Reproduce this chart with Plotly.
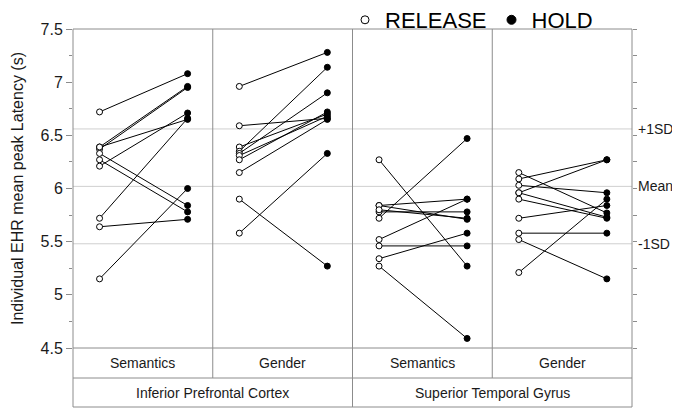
import plotly.graph_objects as go

# condition / region labels for the table under the plot
conditions = ['Semantics', 'Gender', 'Semantics', 'Gender']
regions = ['Inferior Prefrontal Cortex', 'Superior Temporal Gyrus']

# individual latencies (s), RELEASE -> HOLD, one pair per subject
ipc_sem_release = [6.72, 6.39, 6.37, 6.39, 6.33, 6.27, 6.21, 5.72, 5.64, 5.15]
ipc_sem_hold = [7.08, 6.96, 6.95, 6.65, 5.84, 5.78, 6.71, 6.66, 5.71, 6.00]
ipc_gen_release = [6.96, 6.59, 6.39, 6.35, 6.33, 6.31, 6.27, 6.15, 5.90, 5.58]
ipc_gen_hold = [7.28, 6.66, 6.70, 7.14, 6.90, 6.68, 6.72, 6.65, 5.27, 6.33]
stg_sem_release = [6.27, 5.72, 5.84, 5.84, 5.78, 5.80, 5.52, 5.46, 5.34, 5.27]
stg_sem_hold = [5.27, 6.47, 5.90, 5.71, 5.78, 5.72, 5.90, 5.46, 5.58, 4.59]
stg_gen_release = [6.15, 6.09, 6.03, 5.96, 5.96, 5.90, 5.72, 5.58, 5.52, 5.21]
stg_gen_hold = [5.77, 6.27, 5.96, 6.27, 5.73, 5.72, 5.84, 5.58, 5.15, 5.90]

releases = [ipc_sem_release, ipc_gen_release, stg_sem_release, stg_gen_release]
holds = [ipc_sem_hold, ipc_gen_hold, stg_sem_hold, stg_gen_hold]

# reference levels shown on the right
sd_labels = ['+1SD', 'Mean', '-1SD']
sd_levels = [6.56, 6.02, 5.48]

y_ticks = [4.5, 5, 5.5, 6, 6.5, 7, 7.5]

axis_gray = '#8c8c8c'
text_col = '#1a1a1a'
font_family = 'Liberation Sans, Arial, sans-serif'
x_open, x_fill = 0.19, 0.82

# the page body adds an 8px margin around the figure, so keep it inside the window
W, H = 664, 401
plot_h = 319
row1 = -30 / plot_h
row2 = -59 / plot_h

fig = go.Figure()

line_x, line_y, rel_x, rel_y, hold_x, hold_y = [], [], [], [], [], []
for p, (rel, hld) in enumerate(zip(releases, holds)):
    for r, h in zip(rel, hld):
        line_x += [p + x_open, p + x_fill, None]
        line_y += [r, h, None]
        rel_x.append(p + x_open)
        rel_y.append(r)
        hold_x.append(p + x_fill)
        hold_y.append(h)

fig.add_trace(go.Scatter(x=line_x, y=line_y, mode='lines', showlegend=False,
                         line=dict(color='black', width=1), hoverinfo='skip'))
fig.add_trace(go.Scatter(x=rel_x, y=rel_y, mode='markers', name='RELEASE', showlegend=False,
                         marker=dict(symbol='circle', size=6, color='white',
                                     line=dict(color='black', width=1))))
fig.add_trace(go.Scatter(x=hold_x, y=hold_y, mode='markers', name='HOLD', showlegend=False,
                         marker=dict(symbol='circle', size=6, color='black',
                                     line=dict(color='black', width=1))))
# legend entries (larger symbols than the data markers)
fig.add_trace(go.Scatter(x=[None], y=[None], mode='markers', name='RELEASE',
                         marker=dict(symbol='circle', size=8, color='white',
                                     line=dict(color='black', width=1))))
fig.add_trace(go.Scatter(x=[None], y=[None], mode='markers', name='HOLD',
                         marker=dict(symbol='circle', size=9, color='black',
                                     line=dict(color='black', width=1))))
# dummy trace so the right-hand tick axis is drawn
fig.add_trace(go.Scatter(x=[0], y=[6], yaxis='y2', mode='markers', showlegend=False,
                         marker=dict(opacity=0), hoverinfo='skip'))

shapes = []
for lvl in sd_levels:
    shapes.append(dict(type='line', xref='paper', yref='y', x0=0, x1=1, y0=lvl, y1=lvl,
                       line=dict(color='#cfcfcf', width=1), layer='below'))

n = len(conditions)
for p in range(1, n):
    bottom = row2 if p == n // 2 else row1
    shapes.append(dict(type='line', xref='paper', yref='paper', x0=p / n, x1=p / n,
                       y0=1, y1=bottom, line=dict(color=axis_gray, width=1)))
for yy in [1, 0, row1, row2]:
    shapes.append(dict(type='line', xref='paper', yref='paper', x0=0, x1=1,
                       y0=yy, y1=yy, line=dict(color=axis_gray, width=1)))
for xx in [0, 1]:
    shapes.append(dict(type='line', xref='paper', yref='paper', x0=xx, x1=xx,
                       y0=1, y1=row2, line=dict(color=axis_gray, width=1)))

annotations = []
for p, c in enumerate(conditions):
    annotations.append(dict(text=c, xref='paper', yref='paper', x=(p + 0.5) / n,
                            y=row1 / 2, xanchor='center', yanchor='middle',
                            showarrow=False, font=dict(size=14, color=text_col)))
for k, reg in enumerate(regions):
    annotations.append(dict(text=reg, xref='paper', yref='paper', x=(2 * k + 1) / 4,
                            y=(row1 + row2) / 2, xanchor='center', yanchor='middle',
                            showarrow=False, font=dict(size=14, color=text_col)))
for lab, lvl in zip(sd_labels, sd_levels):
    annotations.append(dict(text=lab, xref='paper', yref='y', x=1, y=lvl,
                            xanchor='left', yanchor='middle', xshift=4, showarrow=False,
                            font=dict(size=14, color=text_col)))

fig.update_layout(
    width=W, height=H,
    margin=dict(l=65, r=40, t=21, b=61, autoexpand=False),
    plot_bgcolor='white', paper_bgcolor='white',
    font=dict(family=font_family, color=text_col),
    showlegend=True,
    legend=dict(orientation='h', xref='container', yref='container',
                x=337 / W, xanchor='left', y=1 - 12 / H, yanchor='middle',
                font=dict(size=22, color='black'), bgcolor='rgba(0,0,0,0)'),
    xaxis=dict(range=[0, n], showgrid=False, zeroline=False, showticklabels=False,
               ticks='', showline=False, automargin=False),
    yaxis=dict(range=[4.5, 7.5], tickvals=y_ticks,
               ticktext=[f'{v:g}' for v in y_ticks], automargin=False,
               showgrid=False, zeroline=False, showline=False,
               ticks='outside', ticklen=6, tickcolor=axis_gray,
               tickfont=dict(size=16, color=text_col),
               minor=dict(dtick=0.25, ticks='outside', ticklen=3, tickcolor=axis_gray),
               title=dict(text='Individual EHR mean peak Latency (s)',
                          font=dict(size=16, color=text_col), standoff=12)),
    yaxis2=dict(range=[4.5, 7.5], overlaying='y', side='right', dtick=0.25,
                showgrid=False, zeroline=False, showticklabels=False, automargin=False,
                ticks='outside', ticklen=4, tickcolor=axis_gray, showline=False),
    shapes=shapes,
    annotations=annotations,
)

fig.write_html("out.html")
